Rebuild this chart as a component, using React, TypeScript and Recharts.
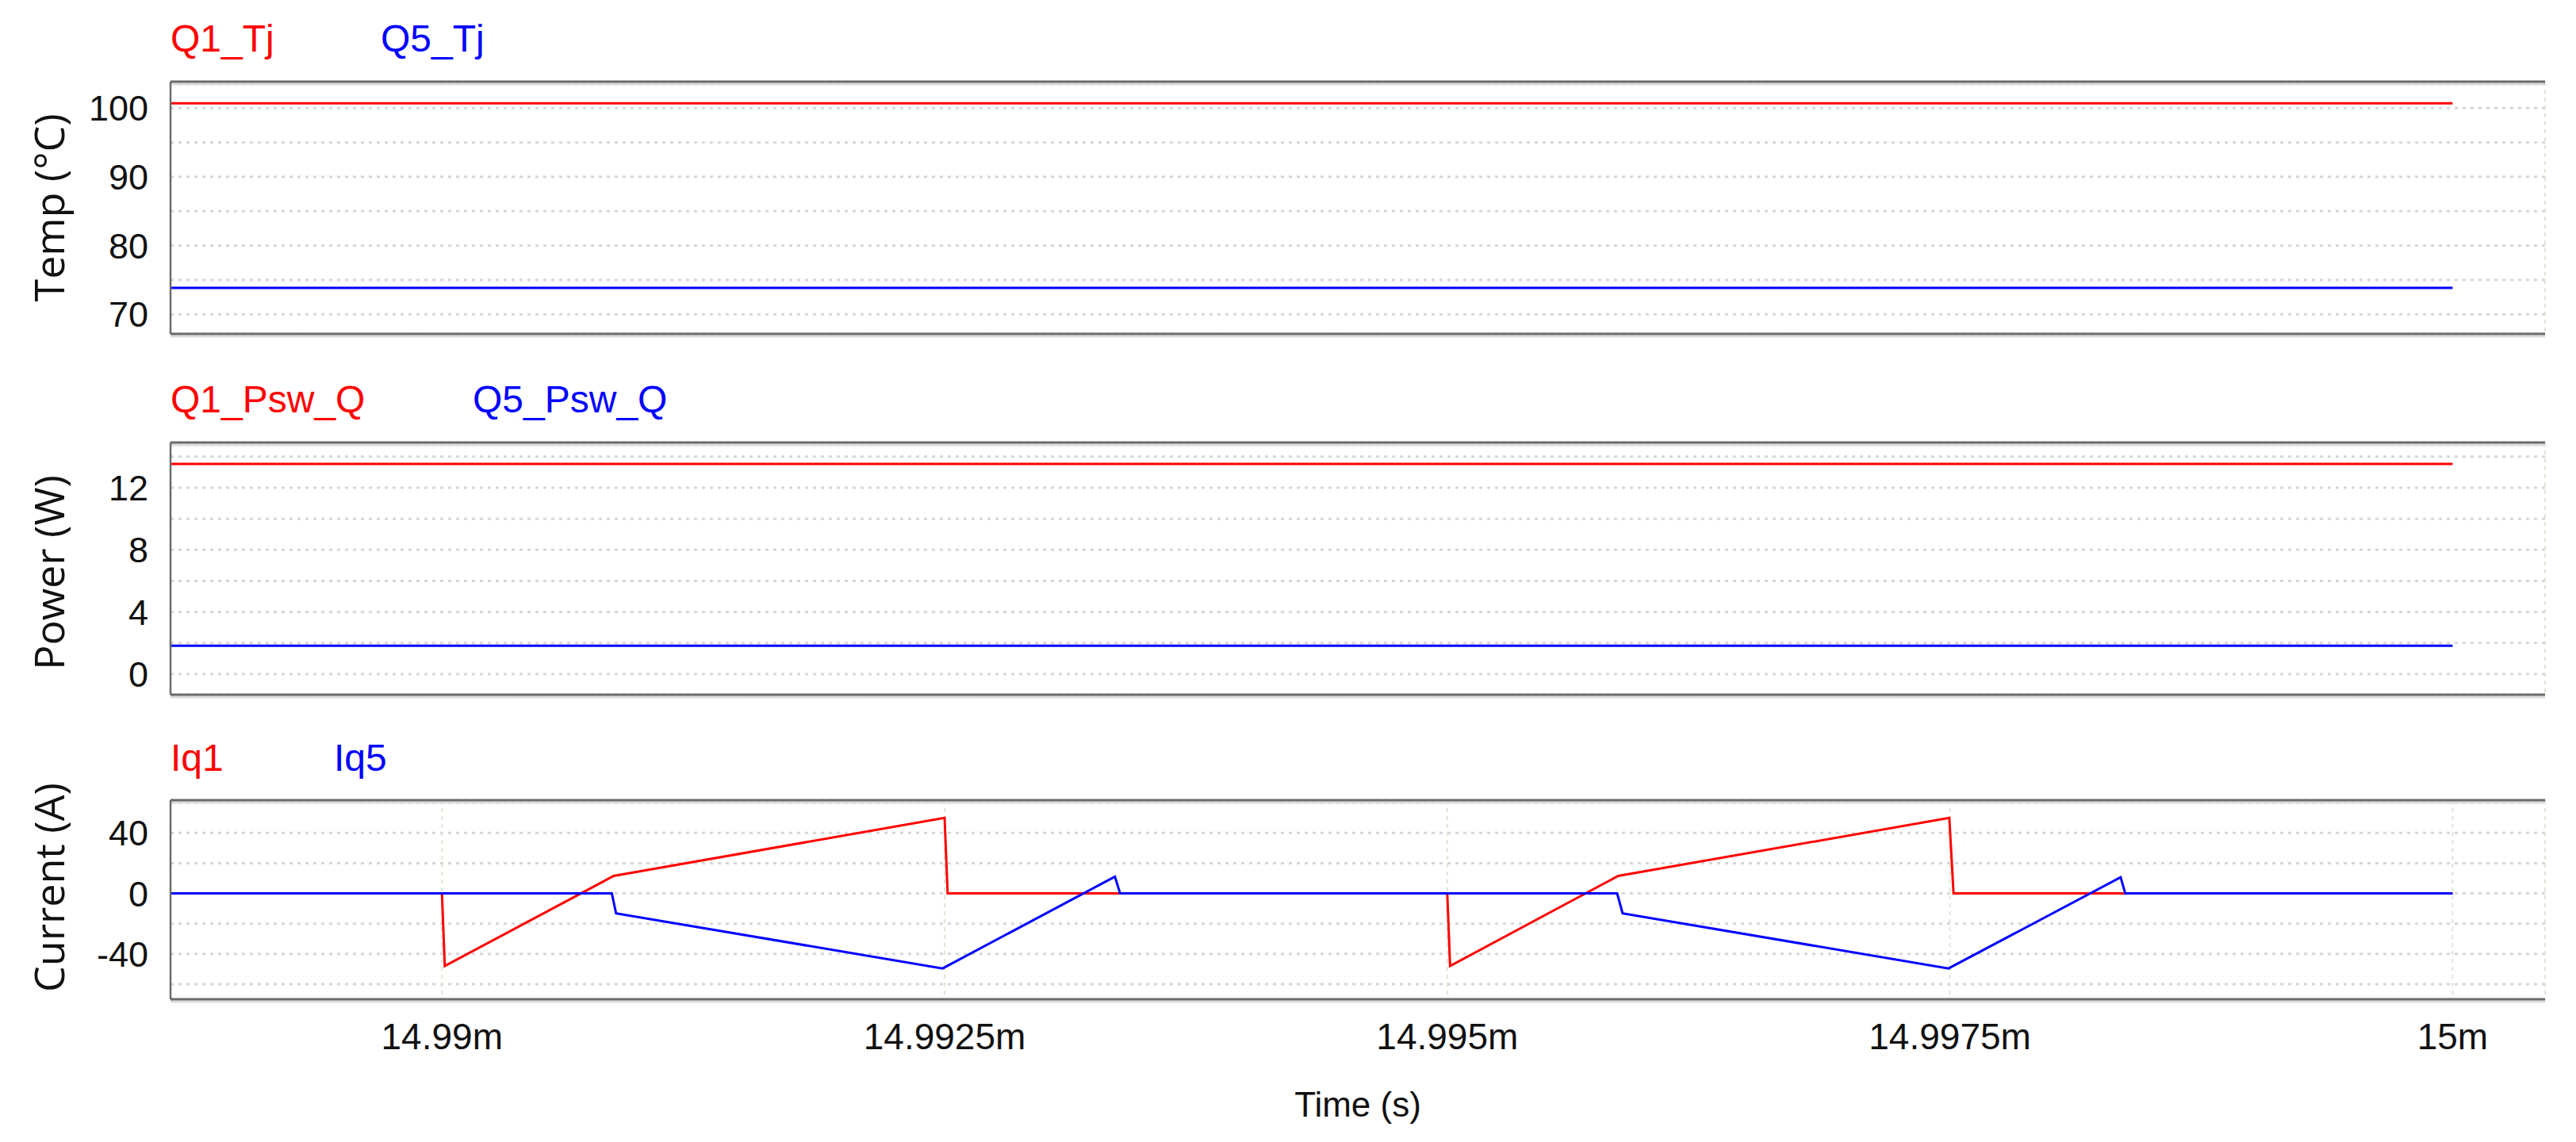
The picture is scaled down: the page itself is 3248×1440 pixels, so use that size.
import { CartesianGrid, Line, LineChart, ReferenceLine, XAxis, YAxis } from "recharts";

// time axis, in ms (labels read "14.99m" etc.)
const timeTicks = [14.99, 14.9925, 14.995, 14.9975, 15];
const timeDomain = [14.98865, 15.00046];

// junction temperature
const tempTime = [14.98865, 15];
const q1Tj = [100.7, 100.7];
const q5Tj = [73.85, 73.85];
const tempGrid = [70, 75, 80, 85, 90, 95, 100];
const tempLabels = [70, 80, 90, 100];

// switching power
const pswTime = [14.98865, 15];
const q1Psw = [13.53, 13.53];
const q5Psw = [1.82, 1.82];
const powerGrid = [0, 2, 4, 6, 8, 10, 12, 14];
const powerLabels = [0, 4, 8, 12];

// switch currents
const iq1Time = [14.98865, 14.99, 14.990014, 14.990854, 14.9925, 14.992515, 14.995, 14.995014, 14.99585, 14.997497, 14.997518, 15];
const iq1 = [0, 0, -48, 11.6, 50, 0, 0, -48, 11.6, 50, 0, 0];
const iq5Time = [14.98865, 14.990845, 14.990866, 14.99249, 14.993347, 14.993373, 14.995845, 14.995872, 14.997493, 14.998349, 14.998372, 15];
const iq5 = [0, 0, -13.2, -49.6, 11.1, 0, 0, -13.2, -49.6, 10.7, 0, 0];
const currentGrid = [-60, -40, -20, 0, 20, 40, 60];
const currentLabels = [-40, 0, 40];

const RED = "#ff0000";
const BLUE = "#0000ff";
const TICK_FONT = "'Liberation Sans', Arial, sans-serif";
const TITLE_FONT = "'Open Sans', 'Noto Sans', sans-serif";

const toPoints = (t: number[], v: number[]) => t.map((x, i) => ({ t: x, v: v[i] }));

const borderShape = (props: any) => (
  <g>
    <line x1={props.x1} y1={props.y1 + 3} x2={props.x2} y2={props.y2 + 3} stroke="#dcdcdc" strokeWidth={3} />
    <line x1={props.x1} y1={props.y1} x2={props.x2} y2={props.y2} stroke="#6b6b6b" strokeWidth={3} />
  </g>
);

type PanelProps = {
  top: number;
  height: number;
  marginTop: number;
  marginBottom: number;
  domain: number[];
  grid: number[];
  labels: number[];
  red: { t: number; v: number }[];
  blue: { t: number; v: number }[];
  showTime?: boolean;
};

function Panel({ top, height, marginTop, marginBottom, domain, grid, labels, red, blue, showTime }: PanelProps) {
  const axisHeight = showTime ? 60 : 1;
  return (
    <div style={{ position: "absolute", left: 0, top }}>
      <LineChart
        width={3248}
        height={height}
        margin={{ top: marginTop, right: 39, left: 115, bottom: marginBottom - axisHeight }}
      >
        <CartesianGrid horizontal vertical={false} stroke="#d6d6d6" strokeWidth={3} strokeDasharray="4 6" />
        <CartesianGrid horizontal={false} vertical stroke="#dde6d2" strokeWidth={2} strokeDasharray="5 5" />
        <XAxis
          type="number"
          dataKey="t"
          domain={timeDomain}
          ticks={timeTicks}
          allowDataOverflow
          height={axisHeight}
          axisLine={false}
          tickLine={false}
          tickSize={0}
          tickMargin={30}
          tick={showTime ? { fontSize: 46, fill: "#111", fontFamily: TICK_FONT } : false}
          tickFormatter={(v) => `${v}m`}
        />
        <YAxis
          type="number"
          domain={domain}
          ticks={grid}
          allowDataOverflow
          width={100}
          tickSize={0}
          tickMargin={28}
          tickLine={false}
          axisLine={{ stroke: "#6b6b6b", strokeWidth: 2.5 }}
          tick={{ fontSize: 45, fill: "#111", fontFamily: TICK_FONT }}
          tickFormatter={(v) => (labels.includes(v) ? String(v) : "")}
        />
        <ReferenceLine y={domain[1]} ifOverflow="visible" shape={borderShape} />
        <ReferenceLine y={domain[0]} ifOverflow="visible" shape={borderShape} />
        <Line data={red} dataKey="v" stroke={RED} strokeWidth={3} dot={false} isAnimationActive={false} />
        <Line data={blue} dataKey="v" stroke={BLUE} strokeWidth={3} dot={false} isAnimationActive={false} />
      </LineChart>
    </div>
  );
}

export default function App() {
  const legendStyle = { fontSize: 48, fontFamily: TICK_FONT };
  const titleStyle = { fontSize: 52, fontFamily: TITLE_FONT, fill: "#111" };
  return (
    <div style={{ position: "absolute", left: 0, top: 0, width: 3248, height: 1440, background: "#fff" }}>
      <Panel
        top={0}
        height={480}
        marginTop={103}
        marginBottom={59}
        domain={[67.15, 103.85]}
        grid={tempGrid}
        labels={tempLabels}
        red={toPoints(tempTime, q1Tj)}
        blue={toPoints(tempTime, q5Tj)}
      />
      <Panel
        top={480}
        height={440}
        marginTop={78}
        marginBottom={44}
        domain={[-1.33, 14.91]}
        grid={powerGrid}
        labels={powerLabels}
        red={toPoints(pswTime, q1Psw)}
        blue={toPoints(pswTime, q5Psw)}
      />
      <Panel
        top={920}
        height={520}
        marginTop={89}
        marginBottom={180}
        domain={[-70, 61.7]}
        grid={currentGrid}
        labels={currentLabels}
        red={toPoints(iq1Time, iq1)}
        blue={toPoints(iq5Time, iq5)}
        showTime
      />
      <svg width={3248} height={1440} style={{ position: "absolute", left: 0, top: 0, pointerEvents: "none" }}>
        <text x={215} y={65} fill={RED} style={legendStyle}>Q1_Tj</text>
        <text x={480} y={65} fill={BLUE} style={legendStyle}>Q5_Tj</text>
        <text x={215} y={520} fill={RED} style={legendStyle}>Q1_Psw_Q</text>
        <text x={596} y={520} fill={BLUE} style={legendStyle}>Q5_Psw_Q</text>
        <text x={215} y={972} fill={RED} style={legendStyle}>Iq1</text>
        <text x={421} y={972} fill={BLUE} style={legendStyle}>Iq5</text>
        <text x={60} y={262} transform="rotate(-90 60 262)" textAnchor="middle" dominantBaseline="central" style={titleStyle}>Temp (°C)</text>
        <text x={60} y={722} transform="rotate(-90 60 722)" textAnchor="middle" dominantBaseline="central" style={titleStyle}>Power (W)</text>
        <text x={60} y={1119} transform="rotate(-90 60 1119)" textAnchor="middle" dominantBaseline="central" style={titleStyle}>Current (A)</text>
        <text x={1712} y={1392} textAnchor="middle" dominantBaseline="central" fill="#111" style={{ fontSize: 44, fontFamily: TICK_FONT }}>Time (s)</text>
      </svg>
    </div>
  );
}
